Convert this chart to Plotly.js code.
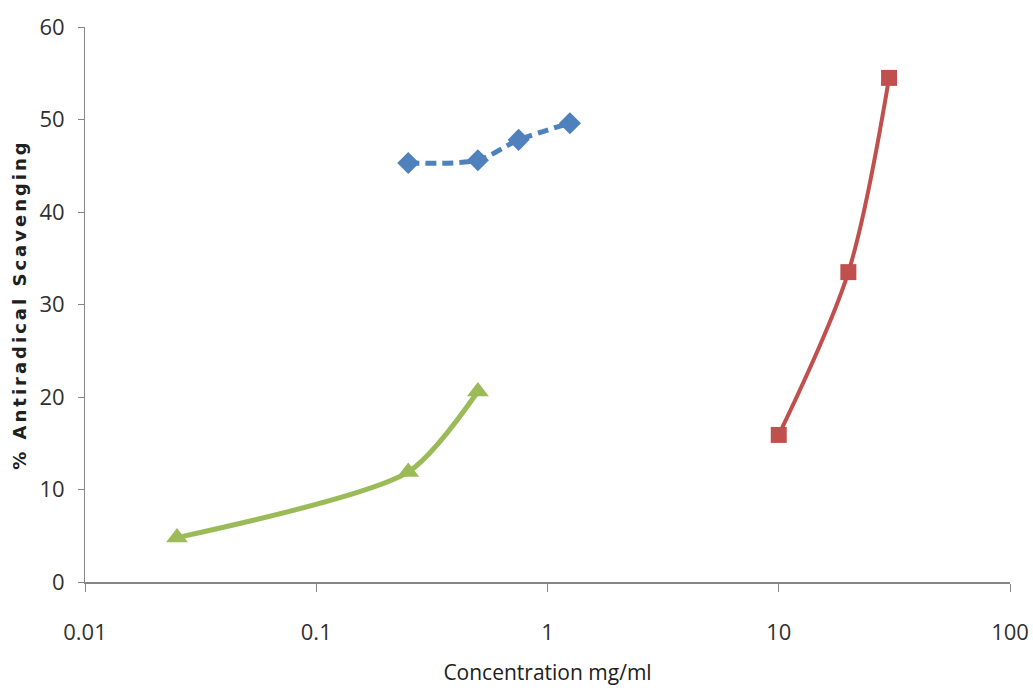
<!DOCTYPE html>
<html>
<head>
<meta charset="utf-8">
<script src="https://cdn.plot.ly/plotly-3.0.1.min.js"></script>
<style>
html,body{margin:0;padding:0;background:#fff;}
#chart{width:1033px;height:696px;}
.ytitle{letter-spacing:3px;}
</style>
</head>
<body>
<div id="chart"></div>
<script>
// Series 1 (blue diamonds, dashed)
const blueX = [0.25, 0.5, 0.75, 1.25];
const blueY = [45.3, 45.6, 47.8, 49.6];
// Series 2 (red squares)
const redX = [10, 20, 30];
const redY = [15.9, 33.5, 54.5];
// Series 3 (green triangles)
const greenX = [0.025, 0.25, 0.5];
const greenY = [4.8, 11.9, 20.6];

const xTickVals = [0.01, 0.1, 1, 10, 100];
const xTickText = ['0.01', '0.1', '1', '10', '100'];
const yTickVals = [0, 10, 20, 30, 40, 50, 60];

const tickFont = {family: '"Open Sans", "Noto Sans", sans-serif', size: 22, color: '#303030'};

const traces = [
  {x: blueX, y: blueY, mode: 'lines+markers', type: 'scatter',
   line: {color: '#4F81BD', width: 5, dash: '11px,6px', shape: 'spline', smoothing: 0.8},
   marker: {symbol: 'diamond', size: 17, color: '#4F81BD'}},
  {x: redX, y: redY, mode: 'lines+markers', type: 'scatter',
   line: {color: '#C0504D', width: 4, shape: 'spline', smoothing: 0.9},
   marker: {symbol: 'square', size: 16, color: '#C0504D'}},
  {x: greenX, y: greenY, mode: 'lines+markers', type: 'scatter',
   line: {color: '#9BBB59', width: 5, shape: 'spline', smoothing: 0.7},
   marker: {symbol: 'triangle-up', size: 19, color: '#9BBB59'}}
];

const layout = {
  width: 1033, height: 696,
  margin: {l: 85, r: 23, t: 27, b: 114},
  paper_bgcolor: '#ffffff', plot_bgcolor: '#ffffff',
  showlegend: false,
  xaxis: {
    type: 'log', range: [-2, 2],
    tickvals: xTickVals, ticktext: xTickText,
    showgrid: false, zeroline: false,
    showline: true, linecolor: '#868686', linewidth: 2,
    ticks: 'outside', ticklen: 8, tickcolor: '#868686', tickwidth: 1,
    ticklabelstandoff: 22,
    tickfont: tickFont,
    title: {text: 'Concentration mg/ml', standoff: 20,
            font: {family: '"Open Sans", "Noto Sans", sans-serif', size: 21, color: '#202020'}}
  },
  yaxis: {
    range: [0, 60], tickvals: yTickVals,
    showgrid: false, zeroline: false,
    showline: true, linecolor: '#868686', linewidth: 1,
    ticks: 'outside', ticklen: 6, tickcolor: '#868686',
    ticklabelstandoff: 9,
    tickfont: tickFont,
    title: {text: '<b>% Antiradical Scavenging</b>', standoff: 8,
            font: {family: '"DejaVu Sans", Verdana, sans-serif', size: 18, color: '#202020'}}
  }
};

Plotly.newPlot('chart', traces, layout, {displayModeBar: false, staticPlot: true});
</script>
</body>
</html>
